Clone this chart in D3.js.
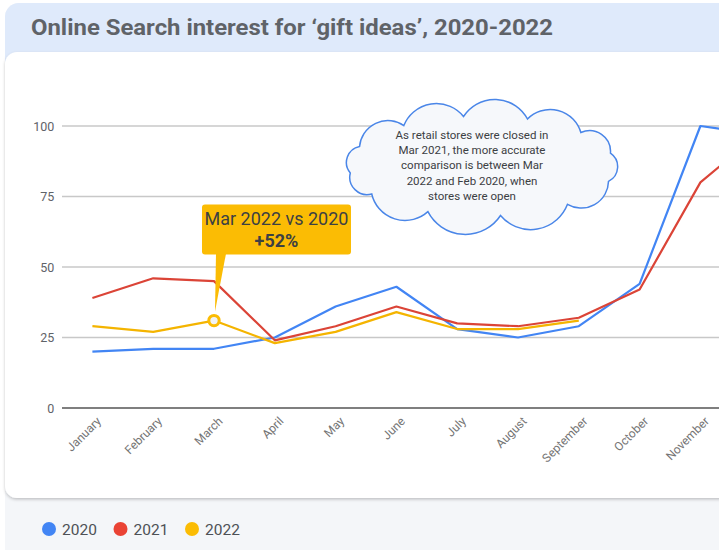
<!DOCTYPE html>
<html>
<head>
<meta charset="utf-8">
<script src="https://cdn.jsdelivr.net/npm/d3@7"></script>
<style>
  html, body { margin: 0; padding: 0; background: #fff; overflow: hidden; }
  svg { display: block; font-family: Roboto, "Noto Sans", sans-serif; }
</style>
</head>
<body>
<div id="chart"></div>
<script>
// data
var months = ["January", "February", "March", "April", "May", "June", "July",
              "August", "September", "October", "November", "December"];
var years = ["2020", "2021", "2022"];
var values2020 = [20, 21, 21, 25, 36, 43, 28, 25, 29, 44, 100, 97];
var values2021 = [39, 46, 45, 24, 29, 36, 30, 29, 32, 42, 80, 98];
var values2022 = [29, 27, 31, 23, 27, 34, 28, 28, 31];
var yTicks = [0, 25, 50, 75, 100];
var colors = ["#4285f4", "#db4437", "#f4b400"];
var legendColors = ["#4285f4", "#ea4335", "#fbbc04"];
var calloutLines = ["Mar 2022 vs 2020", "+52%"];
var cloudLines = ["As retail stores were closed in", "Mar 2021, the more accurate",
                  "comparison is between Mar", "2022 and Feb 2020, when", "stores were open"];

var W = 719, H = 550;
var margin = {top: 126, left: 62};
var step = 60.8;

var svg = d3.select("#chart").append("svg")
    .attr("width", W).attr("height", H);

var defs = svg.append("defs");
var shadow = defs.append("filter").attr("id", "shadow")
    .attr("x", "-5%").attr("y", "-5%").attr("width", "110%").attr("height", "115%");
shadow.append("feDropShadow").attr("dx", 0).attr("dy", 1.5)
    .attr("stdDeviation", 1.5).attr("flood-color", "#000").attr("flood-opacity", 0.22);

// panel background, header, card
svg.append("rect").attr("x", 5).attr("y", 3).attr("width", 800).attr("height", 600)
    .attr("rx", 14).attr("fill", "#f4f6f9");
svg.append("rect").attr("x", 5).attr("y", 3).attr("width", 800).attr("height", 90)
    .attr("rx", 14).attr("fill", "#dfeafb");
svg.append("rect").attr("x", 5).attr("y", 52).attr("width", 800).attr("height", 446)
    .attr("rx", 12).attr("fill", "#fff").attr("filter", "url(#shadow)");

svg.append("text")
    .attr("x", 31).attr("y", 35)
    .attr("textLength", 522).attr("lengthAdjust", "spacingAndGlyphs")
    .attr("font-size", 22).attr("font-weight", 700).attr("fill", "#5f6368")
    .text("Online Search interest for \u2018gift ideas\u2019, 2020-2022");

var x = d3.scalePoint().domain(months).range([0, step * 11]).padding(0);
var y = d3.scaleLinear().domain([0, 100]).range([282, 0]);
var g = svg.append("g").attr("transform", "translate(" + (margin.left + step / 2) + "," + margin.top + ")");

// gridlines
g.append("g").selectAll("line").data(yTicks).join("line")
    .attr("x1", -step / 2).attr("x2", 760)
    .attr("y1", function(d) { return y(d); }).attr("y2", function(d) { return y(d); })
    .attr("stroke", function(d) { return d === 0 ? "#555" : "#c8c8c8"; })
    .attr("stroke-width", function(d) { return d === 0 ? 1.6 : 1.3; });

var yAxis = d3.axisLeft(y).tickValues(yTicks).tickSize(0).tickPadding(0);
g.append("g").attr("transform", "translate(-38,0)").call(yAxis)
    .call(function(a) { a.select(".domain").remove(); })
    .selectAll("text").attr("font-size", 12.5).attr("fill", "#5f6368")
    .attr("font-family", "Roboto, sans-serif");

// only the months whose tick falls inside the window get a label
var xAxis = d3.axisBottom(x).tickSize(0).tickPadding(0)
    .tickValues(months.filter(function(m) { return x(m) + margin.left + step / 2 < W; }));
g.append("g").attr("transform", "translate(0," + y(0) + ")").call(xAxis)
    .call(function(a) { a.select(".domain").remove(); })
    .selectAll("text")
    .attr("font-size", 12).attr("fill", "#757575").attr("font-family", "Roboto, sans-serif")
    .attr("text-anchor", "end")
    .attr("transform", "translate(6,11) rotate(-45)")
    .attr("dy", "0.35em").attr("y", 0);

// lines
var series = [values2020, values2021, values2022];
var line = d3.line()
    .x(function(d, i) { return x(months[i]); })
    .y(function(d) { return y(d); });
g.append("g").selectAll("path").data(series).join("path")
    .attr("d", line)
    .attr("fill", "none")
    .attr("stroke", function(d, i) { return colors[i]; })
    .attr("stroke-width", 2.2)
    .attr("stroke-linejoin", "round");

// callout for Mar 2022
var px = x("March"), py = y(values2022[2]);
var box = {x: px - 12, y: py - 116, w: 149, h: 50};
var callout = g.append("g");
callout.append("path")
    .attr("d", "M" + (px + 2) + "," + (box.y + box.h - 1) + "L" + (px + 12) + "," + (box.y + box.h - 1) +
               "L" + (px + 1) + "," + (py - 9) + "Z")
    .attr("fill", "#fbbc04");
callout.append("rect").attr("x", box.x).attr("y", box.y)
    .attr("width", box.w).attr("height", box.h).attr("rx", 3).attr("fill", "#fbbc04");
callout.selectAll("text").data(calloutLines).join("text")
    .attr("x", box.x + box.w / 2)
    .attr("y", function(d, i) { return box.y + 20 + i * 22; })
    .attr("text-anchor", "middle")
    .attr("font-size", 18)
    .attr("font-weight", function(d, i) { return i === 1 ? 700 : 400; })
    .attr("fill", "#3c4043")
    .text(function(d) { return d; });
g.append("circle").attr("cx", px).attr("cy", py).attr("r", 5.2)
    .attr("fill", "#f1f3f4").attr("stroke", "#fbbc04").attr("stroke-width", 3);

// cloud note
var cloud = {cx: 482, cy: 166, rx: 133, ry: 50};
var bumpAngles = [172, 203, 234, 262, 290, 318, 345, 18, 50, 82, 114, 146];
var pts = bumpAngles.map(function(a) {
  var r = a * Math.PI / 180;
  return [cloud.cx + cloud.rx * Math.cos(r), cloud.cy + cloud.ry * Math.sin(r)];
});
var cloudPath = "M" + pts[0][0] + "," + pts[0][1];
pts.forEach(function(p, i) {
  var q = pts[(i + 1) % pts.length];
  var chord = Math.hypot(q[0] - p[0], q[1] - p[1]);
  var r = chord * 0.58;
  cloudPath += "A" + r + "," + r + " 0 0 1 " + q[0] + "," + q[1];
});
cloudPath += "Z";
svg.append("path").attr("d", cloudPath)
    .attr("fill", "#f6f8fb").attr("stroke", "#4a86e8").attr("stroke-width", 1.5);
svg.append("g").selectAll("text").data(cloudLines).join("text")
    .attr("x", 472)
    .attr("y", function(d, i) { return 139 + i * 15.2; })
    .attr("text-anchor", "middle")
    .attr("font-size", 11.5)
    .attr("fill", "#3c4043")
    .text(function(d) { return d; });

// legend
var legend = svg.append("g").attr("transform", "translate(49,529)");
var item = legend.selectAll("g").data(years).join("g")
    .attr("transform", function(d, i) { return "translate(" + i * 71.5 + ",0)"; });
item.append("circle").attr("r", 7).attr("fill", function(d, i) { return legendColors[i]; });
item.append("text").attr("x", 13).attr("dy", "0.36em")
    .attr("font-size", 15.5).attr("fill", "#4d5156")
    .text(function(d) { return d; });
</script>
</body>
</html>
